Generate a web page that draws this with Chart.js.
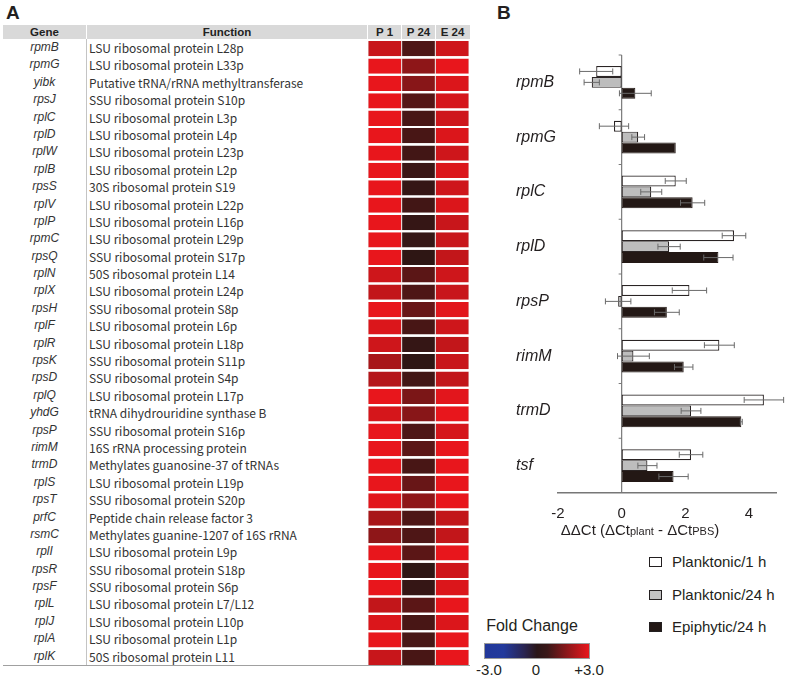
<!DOCTYPE html>
<html>
<head>
<meta charset="utf-8">
<script src="https://cdn.jsdelivr.net/npm/chart.js@4.4.1/dist/chart.umd.min.js"></script>
<style>
  html, body { margin:0; padding:0; background:#fff; }
  #page { position:relative; width:787px; height:678px; overflow:hidden; font-family:"Liberation Sans", Arial, sans-serif; color:#231f20; }
  .abs { position:absolute; }
  .lbl { font-weight:bold; font-size:19px; }
  .hdr { position:absolute; top:25px; height:14px; line-height:14px; font-weight:bold; font-size:11.5px; text-align:center; color:#222; }
  .gene { position:absolute; left:3px; width:83px; text-align:center; font-style:italic; font-size:12px; color:#333; }
  .func { position:absolute; left:89px; font-family:"Noto Sans CJK KR", "Noto Sans", sans-serif; font-size:12px; color:#333; white-space:nowrap; }
  .leg { position:absolute; left:672px; font-size:15px; color:#231f20; }
  .box { position:absolute; left:649px; width:11px; height:8px; border:1.5px solid #231f20; }
</style>
</head>
<body>
<div id="page">
  <div class="abs lbl" style="left:6px;top:2px;">A</div>
  <div class="abs lbl" style="left:497px;top:2px;">B</div>

  <!-- table header -->
  <div class="abs" style="left:3px;top:25px;width:467px;height:14px;background:#d9d9d9;"></div>
  <div class="abs" style="left:86px;top:25px;width:1px;height:14px;background:#fff;"></div>
  <div class="abs" style="left:367px;top:25px;width:1px;height:14px;background:#fff;"></div>
  <div class="abs" style="left:401px;top:25px;width:1px;height:14px;background:#fff;"></div>
  <div class="abs" style="left:435px;top:25px;width:1px;height:14px;background:#fff;"></div>
  <div class="hdr" style="left:3px;width:83px;">Gene</div>
  <div class="hdr" style="left:87px;width:280px;">Function</div>
  <div class="hdr" style="left:368px;width:33px;">P 1</div>
  <div class="hdr" style="left:402px;width:33px;">P 24</div>
  <div class="hdr" style="left:436px;width:33px;">E 24</div>
  <div class="abs" style="left:86px;top:39px;width:1px;height:627px;background:#c4c4c4;"></div>
  <div class="abs" style="left:3px;top:665px;width:467px;height:1px;background:#a0a0a0;"></div>
  <div id="rows"></div>

  <div class="abs" style="left:368px;top:39.5px;width:101px;height:626px;"><canvas id="heat"></canvas></div>

  <div class="abs" style="left:490px;top:40px;width:297px;height:490px;"><canvas id="bars"></canvas></div>

  <div class="abs" style="left:540px;top:521px;width:200px;text-align:center;font-size:15px;white-space:nowrap;">
    ΔΔCt (ΔCt<span style="font-size:11px;">plant</span> - ΔCt<span style="font-size:11px;">PBS</span>)
  </div>

  <div class="box" style="top:557px;background:#fff;"></div>
  <div class="leg" style="top:553px;">Planktonic/1 h</div>
  <div class="box" style="top:590px;background:#c2c2c2;"></div>
  <div class="leg" style="top:586px;">Planktonic/24 h</div>
  <div class="box" style="top:622px;background:#231815;"></div>
  <div class="leg" style="top:618px;">Epiphytic/24 h</div>

  <div class="abs" style="left:472px;top:617px;width:120px;text-align:center;font-size:16px;">Fold Change</div>
  <div class="abs" style="left:484px;top:643px;width:104px;height:14px;border:1px solid #9a9a9a;background:linear-gradient(to right,#22389a 0%,#233a9c 18%,#2a2450 38%,#2a1618 50%,#3a1818 60%,#e8161c 100%);"></div>
  <div class="abs" style="left:469px;top:661px;width:40px;text-align:center;font-size:15px;">-3.0</div>
  <div class="abs" style="left:516px;top:661px;width:40px;text-align:center;font-size:15px;">0</div>
  <div class="abs" style="left:569px;top:661px;width:40px;text-align:center;font-size:15px;">+3.0</div>
</div>

<script>
// panel A: genes, functions and fold changes (P 1 h, P 24 h, E 24 h)
const genes = ['rpmB','rpmG','yibk','rpsJ','rplC','rplD','rplW','rplB','rpsS','rplV','rplP','rpmC',
  'rpsQ','rplN','rplX','rpsH','rplF','rplR','rpsK','rpsD','rplQ','yhdG','rpsP','rimM',
  'trmD','rplS','rpsT','prfC','rsmC','rplI','rpsR','rpsF','rplL','rplJ','rplA','rplK'];
const functions = ['LSU ribosomal protein L28p','LSU ribosomal protein L33p','Putative tRNA/rRNA methyltransferase',
  'SSU ribosomal protein S10p','LSU ribosomal protein L3p','LSU ribosomal protein L4p','LSU ribosomal protein L23p',
  'LSU ribosomal protein L2p','30S ribosomal protein S19','LSU ribosomal protein L22p','LSU ribosomal protein L16p',
  'LSU ribosomal protein L29p','SSU ribosomal protein S17p','50S ribosomal protein L14','LSU ribosomal protein L24p',
  'SSU ribosomal protein S8p','LSU ribosomal protein L6p','LSU ribosomal protein L18p','SSU ribosomal protein S11p',
  'SSU ribosomal protein S4p','LSU ribosomal protein L17p','tRNA dihydrouridine synthase B','SSU ribosomal protein S16p',
  '16S rRNA processing protein','Methylates guanosine-37 of tRNAs','LSU ribosomal protein L19p','SSU ribosomal protein S20p',
  'Peptide chain release factor 3','Methylates guanine-1207 of 16S rRNA','LSU ribosomal protein L9p',
  'SSU ribosomal protein S18p','SSU ribosomal protein S6p','LSU ribosomal protein L7/L12','LSU ribosomal protein L10p',
  'LSU ribosomal protein L1p','50S ribosomal protein L11'];
const heatCols = ['P 1','P 24','E 24'];
const foldP1 = [2.5,3.0,3.0,3.0,3.0,3.0,3.0,3.0,3.0,3.0,3.0,3.0,3.0,2.6,2.4,3.0,2.8,2.6,2.0,2.2,3.0,2.7,3.0,3.0,
  3.0,3.0,2.9,2.0,1.6,3.0,3.0,3.0,2.4,2.8,3.0,2.5];
const foldP24 = [0.6,1.6,1.5,0.7,0.5,0.5,0.4,0.3,0.2,0.4,0.2,0.2,0.1,0.8,0.6,1.0,0.5,0.2,0.1,0.4,1.3,1.5,0.6,0.8,
  0.5,1.0,1.6,0.6,0.6,0.8,0.1,0.2,0.8,0.5,0.5,0.5];
const foldE24 = [2.6,3.0,2.8,2.7,2.6,2.8,2.6,2.8,2.6,2.8,2.5,2.5,2.4,2.6,2.5,2.9,2.6,2.4,2.5,2.4,2.9,3.0,2.7,3.0,
  3.0,3.0,3.0,2.4,2.4,3.0,2.6,2.8,3.0,2.8,3.0,3.0];

// panel B: ddCt per gene, with error bars
const genesB = ['rpmB','rpmG','rplC','rplD','rpsP','rimM','trmD','tsf'];
const seriesNames = ['Planktonic/1 h','Planktonic/24 h','Epiphytic/24 h'];
const plank1 = [-0.80,-0.24,1.70,3.53,2.13,3.07,4.47,2.18];
const plank1Err = [0.52,0.46,0.33,0.37,0.54,0.47,0.62,0.37];
const plank24 = [-0.94,0.52,0.93,1.49,-0.11,0.37,2.18,0.81];
const plank24Err = [0.24,0.20,0.33,0.35,0.40,0.50,0.31,0.30];
const epi24 = [0.43,1.70,2.23,3.04,1.42,1.95,3.76,1.63];
const epi24Err = [0.50,0,0.38,0.46,0.39,0.29,0.03,0.46];
const xTicks = [-2,0,2,4];

// table text
const rowH = 626 / genes.length;
let html = '';
genes.forEach((g, i) => {
  const top = 39 + i * rowH;
  html += `<div class="gene" style="top:${top}px;height:${rowH}px;line-height:${rowH}px;">${g}</div>`;
  html += `<div class="func" style="top:${top}px;height:${rowH}px;line-height:${rowH}px;">${functions[i]}</div>`;
});
document.getElementById('rows').innerHTML = html;

function foldColor(v) {
  const dark = [40, 22, 20], red = [232, 22, 28], blue = [34, 56, 154];
  const t = Math.min(Math.abs(v) / 3, 1), end = v >= 0 ? red : blue;
  const c = dark.map((d, k) => Math.round(d + (end[k] - d) * t));
  return `rgb(${c[0]},${c[1]},${c[2]})`;
}

new Chart(document.getElementById('heat'), {
  type: 'bar',
  data: {
    labels: genes,
    datasets: [foldP1, foldP24, foldE24].map((arr, k) => ({
      label: heatCols[k],
      data: arr.map(() => 1),
      backgroundColor: arr.map(foldColor),
      borderColor: '#c8c8c8',
      borderWidth: { left: 0.5, right: 0.5, top: 0, bottom: 0 },
      borderSkipped: false,
      categoryPercentage: 1, barPercentage: 0.88
    }))
  },
  options: {
    indexAxis: 'y', responsive: true, maintainAspectRatio: false, animation: false,
    layout: { padding: 0 },
    plugins: { legend: { display: false }, tooltip: { enabled: false } },
    scales: {
      x: { stacked: true, min: 0, max: 3, display: false },
      y: { stacked: true, display: false }
    }
  }
});

const errorBars = {
  id: 'errorBars',
  afterDatasetsDraw(chart) {
    const { ctx, scales: { x } } = chart;
    ctx.save();
    ctx.strokeStyle = '#6a6a6a';
    ctx.lineWidth = 1;
    chart.data.datasets.forEach((ds, i) => {
      chart.getDatasetMeta(i).data.forEach((bar, j) => {
        const e = ds.errors[j];
        if (!e) return;
        const x0 = x.getPixelForValue(ds.data[j] - e), x1 = x.getPixelForValue(ds.data[j] + e);
        const y = bar.y, cap = 3;
        ctx.beginPath();
        ctx.moveTo(x0, y); ctx.lineTo(x1, y);
        ctx.moveTo(x0, y - cap); ctx.lineTo(x0, y + cap);
        ctx.moveTo(x1, y - cap); ctx.lineTo(x1, y + cap);
        ctx.stroke();
      });
    });
    ctx.restore();
  }
};

const zeroAxis = {
  id: 'zeroAxis',
  beforeDatasetsDraw(chart) {
    const { ctx, chartArea, scales: { x, y } } = chart;
    const x0 = x.getPixelForValue(0);
    ctx.save();
    ctx.strokeStyle = '#7a7a7a';
    ctx.lineWidth = 1.2;
    ctx.beginPath();
    ctx.moveTo(x0, chartArea.top); ctx.lineTo(x0, chartArea.bottom);
    for (let i = 0; i < genesB.length; i++) {
      const yb = y.getPixelForValue(i - 0.5);
      ctx.moveTo(x0 - 3, yb); ctx.lineTo(x0, yb);
    }
    ctx.stroke();
    ctx.restore();
  }
};

new Chart(document.getElementById('bars'), {
  type: 'bar',
  data: {
    labels: genesB,
    datasets: [
      { label: seriesNames[0], data: plank1, errors: plank1Err, backgroundColor: '#ffffff', borderColor: '#2a2424', borderWidth: 1.2 },
      { label: seriesNames[1], data: plank24, errors: plank24Err, backgroundColor: '#bdbdbd', borderColor: '#2a2424', borderWidth: 1.2 },
      { label: seriesNames[2], data: epi24, errors: epi24Err, backgroundColor: '#231815', borderColor: '#231815', borderWidth: 1 }
    ].map(d => Object.assign(d, { borderSkipped: false, categoryPercentage: 0.6, barPercentage: 1 }))
  },
  options: {
    indexAxis: 'y', responsive: true, maintainAspectRatio: false, animation: false,
    layout: { padding: { left: 26, right: 11, top: 15, bottom: 0 } },
    plugins: { legend: { display: false }, tooltip: { enabled: false } },
    scales: {
      x: {
        min: -2, max: 4.85,
        afterBuildTicks: s => { s.ticks = xTicks.map(v => ({ value: v })); },
        afterFit: s => { s.height = 37; },
        grid: { display: false, drawTicks: false },
        border: { display: true, color: '#777', width: 1.5 },
        ticks: { color: '#231f20', padding: 12, font: { family: 'Liberation Sans', size: 15 } }
      },
      y: {
        afterFit: s => { s.width = 42; },
        grid: { display: false, drawTicks: false },
        border: { display: false },
        ticks: { color: '#231f20', crossAlign: 'far', padding: 0,
          font: { family: 'Liberation Sans', size: 16, style: 'italic' } }
      }
    }
  },
  plugins: [zeroAxis, errorBars]
});
</script>
</body>
</html>
